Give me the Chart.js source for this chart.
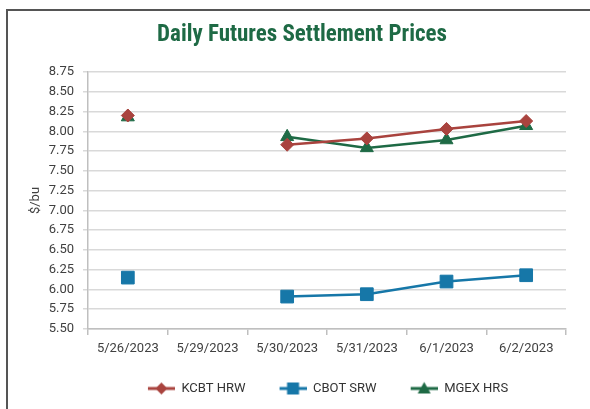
<!DOCTYPE html>
<html>
<head>
<meta charset="utf-8">
<script src="https://cdn.jsdelivr.net/npm/chart.js@4"></script>
<style>
  html, body { margin: 0; padding: 0; background: #fff; }
  #wrap { position: relative; width: 590px; height: 409px; overflow: hidden; }
  #frame { position: absolute; left: 6px; top: 9px; width: 700px; height: 500px; border: 2px solid #555; box-sizing: border-box; }
  #prices { position: absolute; left: 0; top: 0; }
</style>
</head>
<body>
<div id="wrap">
  <div id="frame"></div>
  <canvas id="prices" width="590" height="409"></canvas>
</div>
<script>
const dates = ['5/26/2023', '5/29/2023', '5/30/2023', '5/31/2023', '6/1/2023', '6/2/2023'];
const kcbtHrw = [8.20, null, 7.83, 7.91, 8.03, 8.13];
const cbotSrw = [6.15, null, 5.91, 5.94, 6.10, 6.18];
const mgexHrs = [8.18, null, 7.93, 7.79, 7.89, 8.07];

const red = '#a9433e';
const blue = '#1677a8';
const green = '#1e6a45';

const titleText = 'Daily Futures Settlement Prices';
const titleFamily = "'Roboto Condensed', 'Liberation Sans Narrow', 'DejaVu Sans Condensed', Roboto";

// size the title so it spans about 290px whatever condensed face is there
const probe = document.createElement('canvas').getContext('2d');
probe.font = 'bold 23px ' + titleFamily;
const titleSize = Math.min(24, 23 * 290 / probe.measureText(titleText).width);
const titleH = titleSize * 1.2;
const titleTop = 25 - titleH / 2;
const titleBottom = 62 - titleTop - titleH;

// legend swatch: short line with the marker on top, blank space on the left
// gives the gap between legend items without a tall legend box
const gap = 24;
function swatch(color, style) {
    const c = document.createElement('canvas');
    c.width = 27 + gap;
    c.height = 16;
    const ctx = c.getContext('2d');
    ctx.translate(gap, 0);
    ctx.strokeStyle = color;
    ctx.fillStyle = color;
    ctx.lineWidth = 3;
    ctx.beginPath();
    ctx.moveTo(0, 8);
    ctx.lineTo(27, 8);
    ctx.stroke();
    ctx.beginPath();
    if (style === 'diamond') {
        ctx.moveTo(13.5, 2); ctx.lineTo(19.5, 8); ctx.lineTo(13.5, 14); ctx.lineTo(7.5, 8);
    } else if (style === 'square') {
        ctx.rect(7.5, 2, 12, 12);
    } else {
        ctx.moveTo(13.5, 1.5); ctx.lineTo(20, 13); ctx.lineTo(7, 13);
    }
    ctx.closePath();
    ctx.fill();
    return c;
}

const tickFont = { family: 'Roboto', size: 13 };

// the legend in the picture sits centred under the plot, not under the title
const legendShift = {
    id: 'legendShift',
    afterLayout(chart) {
        chart.legend.left += 14;
        chart.legend.right += 14;
    }
};

new Chart(document.getElementById('prices'), {
    type: 'line',
    data: {
        labels: dates,
        datasets: [
            {
                label: 'KCBT HRW',
                data: kcbtHrw,
                borderColor: red,
                backgroundColor: red,
                borderWidth: 2.5,
                pointBorderWidth: 1,
                pointStyle: 'rectRot',
                pointRadius: 6.5,
                pointHoverRadius: 6.5,
                legendSwatch: swatch(red, 'diamond'),
            },
            {
                label: 'CBOT SRW',
                data: cbotSrw,
                borderColor: blue,
                backgroundColor: blue,
                borderWidth: 2.5,
                pointBorderWidth: 1,
                pointStyle: 'rect',
                pointRadius: 9,
                pointHoverRadius: 9,
                legendSwatch: swatch(blue, 'square'),
            },
            {
                label: 'MGEX HRS',
                data: mgexHrs,
                borderColor: green,
                backgroundColor: green,
                borderWidth: 2.5,
                pointBorderWidth: 1,
                pointStyle: 'triangle',
                pointRadius: 7.5,
                pointHoverRadius: 7.5,
                legendSwatch: swatch(green, 'triangle'),
            }
        ]
    },
    options: {
        responsive: false,
        animation: false,
        devicePixelRatio: 1,
        spanGaps: false,
        layout: { padding: { left: 38, right: 24, top: 10, bottom: 4 } },
        scales: {
            x: {
                offset: true,
                grid: { offset: true, drawOnChartArea: false, tickLength: 6, color: '#bfbfbf', lineWidth: 1.5 },
                border: { color: '#bfbfbf', width: 1.5 },
                ticks: { font: tickFont, color: '#404040', padding: 6, maxRotation: 0 },
                afterFit: function (scale) { scale.height = 43; }
            },
            y: {
                min: 5.5,
                max: 8.75,
                grid: { color: '#d9d9d9', lineWidth: 1.5, tickLength: 5 },
                border: { color: '#bfbfbf', width: 1.5 },
                ticks: {
                    stepSize: 0.25,
                    autoSkip: false,
                    font: tickFont,
                    color: '#404040',
                    padding: 9,
                    callback: function (v) { return v.toFixed(2); }
                },
                title: {
                    display: true,
                    text: '$/bu',
                    font: { family: 'Roboto', size: 13 },
                    color: '#404040',
                    padding: { top: -10, bottom: 0 }
                },
                afterFit: function (scale) { scale.width = 50; }
            }
        },
        plugins: {
            title: {
                display: true,
                text: titleText,
                color: '#1e6a45',
                font: { family: titleFamily, size: titleSize, weight: 'bold', lineHeight: 1.2 },
                padding: { top: titleTop, bottom: titleBottom }
            },
            legend: {
                position: 'bottom',
                labels: {
                    usePointStyle: true,
                    pointStyleWidth: 27 + gap,
                    padding: 10,
                    color: '#333333',
                    font: { family: 'Roboto', size: 13 },
                    generateLabels: function (chart) {
                        return chart.data.datasets.map(function (ds, i) {
                            return {
                                text: ds.label,
                                pointStyle: ds.legendSwatch,
                                fillStyle: ds.borderColor,
                                strokeStyle: ds.borderColor,
                                lineWidth: 0,
                                fontColor: '#333333',
                                hidden: !chart.isDatasetVisible(i),
                                datasetIndex: i
                            };
                        });
                    }
                }
            },
            tooltip: { enabled: true }
        }
    },
    plugins: [legendShift]
});
</script>
</body>
</html>
